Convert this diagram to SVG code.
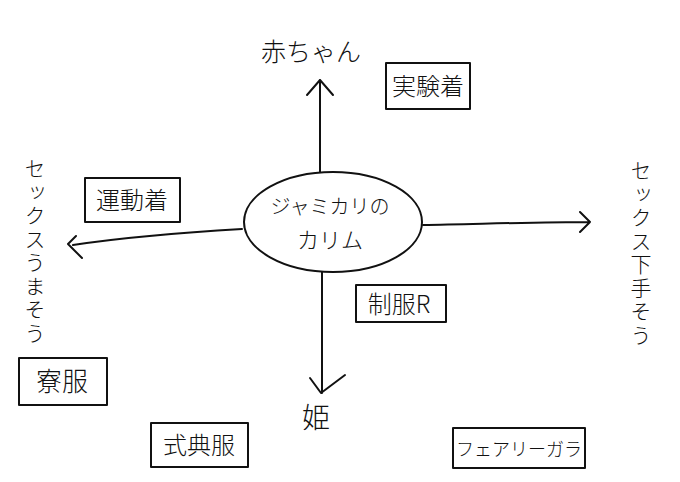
<svg xmlns="http://www.w3.org/2000/svg" width="680" height="482" viewBox="0 0 680 482">
<style>
.ln{fill:none;stroke:#111;stroke-width:2;stroke-linecap:round;stroke-linejoin:round}
.t{font-family:"Noto Sans CJK JP","Noto Sans CJK SC",sans-serif;fill:#111;font-weight:300}
.v{writing-mode:vertical-rl;text-orientation:upright}
</style>
<rect width="680" height="482" fill="#fff"/>
<g id="connectors">
<path class="ln" d="M320,172 L320,80 M307,95 L320,80 L333,95"/>
<path class="ln" d="M322,272 L322,393 M310,378 L321,393 L345,375"/>
<path class="ln" d="M242,229 C190,232 120,238 73,245 M76,236 L68,244 L82,258"/>
<path class="ln" d="M423,225 C480,224 540,222 590,222 M580,212 L590,222 L580,232"/>
</g>
<g id="center">
<ellipse class="ln" cx="333" cy="222" rx="89" ry="50"/>
<text class="t" x="330" y="214" font-size="20" text-anchor="middle">ジャミカリの</text>
<text class="t" x="330" y="248" font-size="22" text-anchor="middle">カリム</text>
</g>
<g id="top"><text class="t" x="311" y="61" font-size="25" text-anchor="middle">赤ちゃん</text></g>
<g id="bottom"><text class="t" x="316" y="428" font-size="28" text-anchor="middle">姫</text></g>
<g id="left"><text class="t v" x="35" y="158" font-size="21" letter-spacing="2.5">セックスうまそう</text></g>
<g id="right"><text class="t v" x="641" y="160" font-size="21" letter-spacing="2.5">セックス下手そう</text></g>
<g id="jikkengi"><rect class="ln" x="386" y="63" width="84" height="46"/><text class="t" x="428" y="95" font-size="24" text-anchor="middle">実験着</text></g>
<g id="undougi"><rect class="ln" x="85" y="178" width="95" height="44"/><text class="t" x="132" y="209" font-size="24" text-anchor="middle">運動着</text></g>
<g id="seifuku"><rect class="ln" x="356" y="285" width="90" height="37"/><text class="t" x="399" y="313" font-size="24" text-anchor="middle">制服R</text></g>
<g id="ryoufuku"><rect class="ln" x="19" y="358" width="88" height="47"/><text class="t" x="62" y="391" font-size="26" text-anchor="middle">寮服</text></g>
<g id="shikitenfuku"><rect class="ln" x="151" y="423" width="97" height="44"/><text class="t" x="199" y="454" font-size="24" text-anchor="middle">式典服</text></g>
<g id="fairygala"><rect class="ln" x="453" y="428" width="132" height="40"/><text class="t" x="519" y="456" font-size="18" text-anchor="middle">フェアリーガラ</text></g>
</svg>
